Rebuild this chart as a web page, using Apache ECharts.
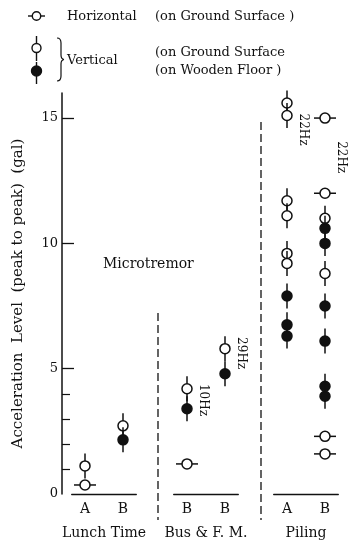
<!DOCTYPE html>
<html>
<head>
<meta charset="utf-8">
<script src="https://cdn.jsdelivr.net/npm/echarts@6/dist/echarts.min.js"></script>
<style>
html,body{margin:0;padding:0;background:#fff;}
#chart{width:354px;height:545px;}
</style>
</head>
<body>
<div id="chart"></div>
<script>
// ---- data ----
const groups = ['Lunch Time', 'Bus & F. M.', 'Piling'];
const columnLabels = ['A', 'B', 'B', 'B', 'A', 'B'];          // two columns per group
const horizontalGround = [[0.36], [], [1.2], [], [], [15.0, 12.0, 2.3, 1.6]];
const verticalGround   = [[1.12], [2.72], [4.2], [5.8], [15.6, 15.1, 11.7, 11.1, 9.6, 9.2], [11.0, 8.8]];
const verticalWooden   = [[], [2.16], [3.4], [4.8], [7.9, 6.75, 6.3], [10.6, 10.0, 7.5, 6.1, 4.3, 3.9]];
const freqNotes = [
  { col: 2, value: 3.75, text: '10Hz' },
  { col: 3, value: 5.62, text: '29Hz' },
  { col: 4, value: 14.54, text: '22Hz' },
  { col: 5, value: 13.44, text: '22Hz' }
];
const yTickLabels = [0, 5, 10, 15];
const yMinorTicks = [1, 2, 3, 4];

// ---- layout ----
const FONT = 'DejaVu Serif';
const INK = '#111';
const unit = 38;           // px between the two columns of a group
const padL = 0.35, padR = 0.35;
const gridLefts = [71.7, 173.7, 273.7];
const gridWidth = (1 + padL + padR) * unit;
const gridTop = 93, gridBottom = 51;

function buildPoints(g) {
  const pts = [];
  for (let s = 0; s < 2; s++) {
    const c = g * 2 + s;
    verticalGround[c].forEach(v => pts.push([s, v, 1]));
  }
  for (let s = 0; s < 2; s++) {
    const c = g * 2 + s;
    horizontalGround[c].forEach(v => pts.push([s, v, 0]));
  }
  for (let s = 0; s < 2; s++) {
    const c = g * 2 + s;
    verticalWooden[c].forEach(v => pts.push([s, v, 2]));
  }
  return pts;
}

function renderMarker(params, api) {
  const kind = api.value(2);
  const p = api.coord([api.value(0), api.value(1)]);
  const r = 5, wv = 12.5, wh = 11;
  const lineStyle = { stroke: INK, lineWidth: 1.5 };
  const line = kind === 0
    ? { type: 'line', shape: { x1: p[0] - wh, y1: p[1], x2: p[0] + wh, y2: p[1] }, style: lineStyle }
    : { type: 'line', shape: { x1: p[0], y1: p[1] - wv, x2: p[0], y2: p[1] + wv }, style: lineStyle };
  const circ = { type: 'circle', shape: { cx: p[0], cy: p[1], r: r },
    style: { fill: kind === 2 ? INK : '#fff', stroke: INK, lineWidth: 1.5 } };
  return { type: 'group', children: [line, circ] };
}

const xAxes = [], yAxes = [], grids = [], series = [];
groups.forEach((name, g) => {
  grids.push({ left: gridLefts[g], width: gridWidth, top: gridTop, bottom: gridBottom });
  xAxes.push({
    type: 'value', gridIndex: g, min: -padL, max: 1 + padR,
    axisLine: { show: true, onZero: false, lineStyle: { color: INK, width: 1.3 } },
    axisTick: { show: false }, splitLine: { show: false },
    axisLabel: { customValues: [0, 1], formatter: v => columnLabels[g * 2 + Math.round(v)],
      color: INK, fontFamily: FONT, fontSize: 14, margin: 8 },
    name: name, nameLocation: 'middle', nameGap: 32,
    nameTextStyle: { color: INK, fontFamily: FONT, fontSize: 14 }
  });
  series.push({
    type: 'custom', xAxisIndex: g, yAxisIndex: g === 0 ? 0 : g + 1,
    data: buildPoints(g), renderItem: renderMarker, silent: true, clip: false
  });
  const notes = freqNotes.filter(n => Math.floor(n.col / 2) === g);
  if (notes.length) {
    series.push({
      type: 'custom', xAxisIndex: g, yAxisIndex: g === 0 ? 0 : g + 1,
      data: notes.map(n => [n.col % 2, n.value]), silent: true, clip: false,
      renderItem: (params, api) => {
        const p = api.coord([api.value(0), api.value(1)]);
        return { type: 'text', x: p[0] + 16, y: p[1], rotation: -Math.PI / 2,
          style: { text: notes[params.dataIndex].text, fontFamily: FONT, fontSize: 12,
            fill: INK, align: 'center', verticalAlign: 'middle' } };
      }
    });
  }
});

yAxes.push({
  type: 'value', gridIndex: 0, min: 0, max: 16, position: 'left', offset: 9.7,
  axisLine: { show: true, onZero: false, lineStyle: { color: INK, width: 1.5 } },
  axisTick: { show: true, inside: true, length: 12, customValues: [5, 10, 15], lineStyle: { color: INK, width: 1.3 } },
  axisLabel: { customValues: yTickLabels, color: INK, fontFamily: FONT, fontSize: 13, margin: 4 },
  splitLine: { show: false },
  name: 'Acceleration  Level  (peak to peak)  (gal)', nameLocation: 'middle', nameGap: 36,
  nameTextStyle: { color: INK, fontFamily: FONT, fontSize: 15 }
});
yAxes.push({
  type: 'value', gridIndex: 0, min: 0, max: 16, position: 'left', offset: 9.7,
  axisLine: { show: false, onZero: false },
  axisTick: { show: true, inside: true, length: 8, customValues: yMinorTicks, lineStyle: { color: INK, width: 1.2 } },
  axisLabel: { show: false }, splitLine: { show: false }
});
yAxes.push({ type: 'value', gridIndex: 1, min: 0, max: 16, show: false });
yAxes.push({ type: 'value', gridIndex: 2, min: 0, max: 16, show: false });

const txt = (x, y, text, size) => ({ type: 'text', x: x, y: y,
  style: { text: text, fontFamily: FONT, fontSize: size, fill: INK, verticalAlign: 'middle' } });
const dashStyle = { stroke: INK, lineWidth: 1.3, lineDash: [8, 4] };
const braceStyle = { fill: 'none', stroke: INK, lineWidth: 1.2 };
const ln = (x1, y1, x2, y2, style) => ({ type: 'line', shape: { x1, y1, x2, y2 }, style: style });
const qc = (x1, y1, cx, cy, x2, y2) => ({ type: 'bezierCurve',
  shape: { x1, y1, cpx1: cx, cpy1: cy, x2, y2 }, style: braceStyle });

const graphic = [
  // legend markers
  ln(28, 16, 45, 16, { stroke: INK, lineWidth: 1.4 }),
  { type: 'circle', shape: { cx: 36.5, cy: 16, r: 4.2 }, style: { fill: '#fff', stroke: INK, lineWidth: 1.4 } },
  ln(36.5, 36, 36.5, 61, { stroke: INK, lineWidth: 1.4 }),
  { type: 'circle', shape: { cx: 36.5, cy: 48, r: 4.5 }, style: { fill: '#fff', stroke: INK, lineWidth: 1.4 } },
  ln(36.5, 62, 36.5, 84, { stroke: INK, lineWidth: 1.4 }),
  { type: 'circle', shape: { cx: 36.5, cy: 71, r: 5 }, style: { fill: INK, stroke: INK, lineWidth: 1.4 } },
  // brace
  qc(57, 38, 61, 38, 61, 43),
  ln(61, 43, 61, 55, braceStyle),
  qc(61, 55, 61, 59, 64, 59.5),
  qc(64, 59.5, 61, 60, 61, 64),
  ln(61, 64, 61, 76, braceStyle),
  qc(61, 76, 61, 81, 57, 81),
  txt(67, 17, 'Horizontal', 13),
  txt(155, 17, '(on Ground Surface )', 13),
  txt(67, 61, 'Vertical', 13),
  txt(155, 53, '(on Ground Surface', 13),
  txt(155, 71, '(on Wooden Floor )', 13),
  txt(103, 264, 'Microtremor', 14),
  // group separators
  ln(158, 313, 158, 520, dashStyle),
  ln(261, 122, 261, 520, dashStyle)
];

const chart = echarts.init(document.getElementById('chart'), null, { renderer: 'canvas' });
chart.setOption({
  backgroundColor: '#fff',
  animation: false,
  grid: grids,
  xAxis: xAxes,
  yAxis: yAxes,
  series: series,
  graphic: graphic
});
</script>
</body>
</html>
